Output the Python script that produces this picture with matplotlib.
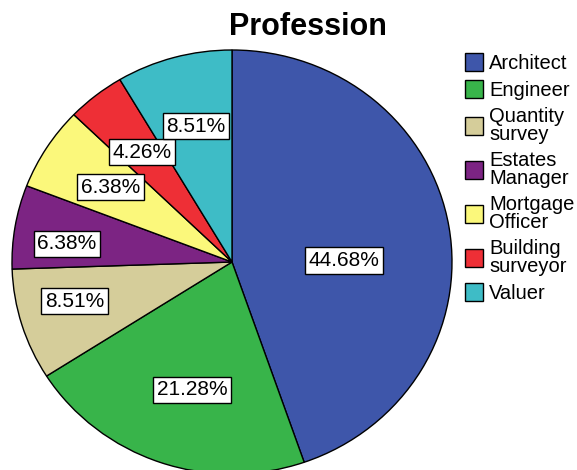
import matplotlib.pyplot as plt
import numpy as np

plt.rcParams['font.family'] = ['Liberation Sans', 'DejaVu Sans']

# data
professions = ['Architect', 'Engineer', 'Quantity\nsurvey', 'Estates\nManager',
               'Mortgage\nOfficer', 'Building\nsurveyor', 'Valuer']
percents = [44.68, 21.28, 8.51, 6.38, 6.38, 4.26, 8.51]
pct_labels = ['44.68%', '21.28%', '8.51%', '6.38%', '6.38%', '4.26%', '8.51%']

colors = ['#3E56AA', '#38B44A', '#D5CD9A', '#7C2483', '#FBF87B', '#EE2F36', '#3EBCC6']
# label box placement: radius (fraction of pie radius) and angle nudge (deg)
label_r = [0.51, 0.63, 0.74, 0.755, 0.655, 0.66, 0.66]
label_dang = [-8.8, 2.3, -2.7, 3.1, 0.0, 0.0, -1.0]

W, H = 577, 470
fig = plt.figure(figsize=(W / 100, H / 100), dpi=100)

# pie axes in pixel terms: x 12..452, y 50..474 (from top)
ax = fig.add_axes([12 / W, (H - 474) / H, 440 / W, 424 / H])
wedges, _ = ax.pie(percents, colors=colors, startangle=90, counterclock=False,
                   radius=1.0,
                   wedgeprops=dict(edgecolor='black', linewidth=1.0))
ax.set_aspect('auto')
ax.set_xlim(-1.0, 1.0)
ax.set_ylim(-1.0, 1.0)

for w, lab, r, da in zip(wedges, pct_labels, label_r, label_dang):
    mid = np.deg2rad((w.theta1 + w.theta2) / 2 + da)
    ax.text(r * np.cos(mid), r * np.sin(mid), lab, ha='center', va='center',
            fontsize=15,
            bbox=dict(boxstyle='square,pad=0.17', facecolor='white',
                      edgecolor='black', linewidth=1.0))

fig.text(308 / W, 1 - 27 / H, 'Profession', ha='center', va='center',
         fontsize=22, fontweight='bold')

leg = fig.legend(wedges, professions, loc='upper left',
                 bbox_to_anchor=(465 / W, 1 - 53 / H), frameon=False,
                 fontsize=14.5, handlelength=0.9, handleheight=1.0,
                 handletextpad=0.3, labelspacing=0.34, borderpad=0.0,
                 borderaxespad=0.0)
for t in leg.get_texts():
    t.set_linespacing(0.95)

fig.savefig('out.png', dpi=100)
